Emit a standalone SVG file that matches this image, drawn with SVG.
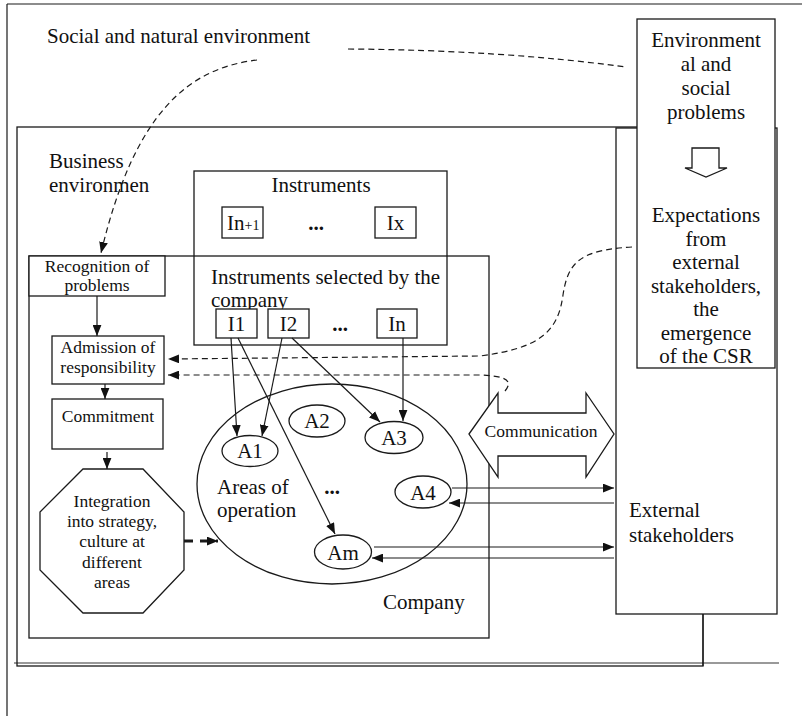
<svg xmlns="http://www.w3.org/2000/svg" width="802" height="716" viewBox="0 0 802 716">
<style>
  text { font-family: 'Liberation Serif', 'Times New Roman', serif; fill: #111; }
  .t21 { font-size: 21px; }
  .t17 { font-size: 17.5px; }
  .mid { text-anchor: middle; }
  .box { fill: none; stroke: #1a1a1a; stroke-width: 1.3; }
  .wbox { fill: #fff; stroke: #1a1a1a; stroke-width: 1.3; }
  .ln { fill: none; stroke: #1a1a1a; stroke-width: 1.2; }
  .dash { fill: none; stroke: #1a1a1a; stroke-width: 1.2; stroke-dasharray: 6 4; }
  .tdash { fill: none; stroke: #1a1a1a; stroke-width: 3; stroke-dasharray: 9 7; }
  .dots { font-weight: bold; }
</style>
<defs>
  <marker id="ah" viewBox="0 0 10 8" refX="10" refY="4" markerWidth="11" markerHeight="9" markerUnits="userSpaceOnUse" orient="auto">
    <path d="M0,0 L10,4 L0,8 z" fill="#111"/>
  </marker>
  <marker id="ahb" viewBox="0 0 10 8" refX="10" refY="4" markerWidth="11" markerHeight="9" markerUnits="userSpaceOnUse" orient="auto">
    <path d="M0,0 L10,4 L0,8 z" fill="#111"/>
  </marker>
</defs>

<g id="frame">
  <line x1="7" y1="4" x2="802" y2="4" class="ln"/>
  <line x1="7" y1="4" x2="7" y2="716" class="ln"/>
  <line x1="14" y1="663" x2="779" y2="663" stroke="#777" stroke-width="1.5"/>
</g>

<g id="social-environment">
  <text x="47" y="43" class="t21">Social and natural environment</text>
</g>

<g id="business-environment">
  <rect x="17" y="127" width="686" height="539" class="box"/>
  <text x="49" y="168" class="t21">Business</text>
  <text x="49" y="192" class="t21">environmen</text>
</g>

<g id="company">
  <rect x="29" y="256" width="460" height="382" class="box"/>
  <text x="383" y="609" class="t21">Company</text>
</g>

<g id="instruments">
  <rect x="194" y="171" width="253" height="174" class="box"/>
  <text x="321" y="192" class="t21 mid">Instruments</text>
  <text x="211" y="284" class="t21">Instruments selected by the</text>
  <text x="211" y="307" class="t21">company</text>
</g>

<g id="in1">
  <rect x="222" y="207" width="41" height="31" class="box"/>
  <text x="227" y="230" class="t21">In<tspan font-size="14px">+1</tspan></text>
</g>
<g id="dots-top"><text x="316" y="230" class="t21 mid dots">...</text></g>
<g id="ix">
  <rect x="375" y="207" width="41" height="31" class="box"/>
  <text x="395.5" y="230" class="t21 mid">Ix</text>
</g>

<g id="i1">
  <rect x="216" y="309" width="41" height="29" class="wbox"/>
  <text x="236.5" y="331" class="t21 mid">I1</text>
</g>
<g id="i2">
  <rect x="268" y="309" width="41" height="29" class="wbox"/>
  <text x="288.5" y="331" class="t21 mid">I2</text>
</g>
<g id="dots-sel"><text x="340" y="331" class="t21 mid dots">...</text></g>
<g id="in">
  <rect x="377" y="309" width="40" height="29" class="wbox"/>
  <text x="397" y="331" class="t21 mid">In</text>
</g>

<g id="recognition">
  <rect x="29" y="256" width="136" height="40" class="wbox"/>
  <text x="97" y="272" class="t17 mid">Recognition of</text>
  <text x="97" y="291" class="t17 mid">problems</text>
</g>

<g id="admission">
  <rect x="52" y="336" width="112" height="48" class="wbox"/>
  <text x="108" y="353" class="t17 mid">Admission of</text>
  <text x="108" y="373" class="t17 mid">responsibility</text>
</g>

<g id="commitment">
  <rect x="52" y="399" width="111" height="50" class="wbox"/>
  <text x="108" y="422" class="t17 mid">Commitment</text>
</g>

<g id="integration">
  <polygon points="83,469 143,469 184,512 184,570 143,613 83,613 40,570 40,512" class="wbox"/>
  <text x="112" y="507" class="t17 mid">Integration</text>
  <text x="112" y="527" class="t17 mid">into strategy,</text>
  <text x="112" y="547" class="t17 mid">culture at</text>
  <text x="112" y="568" class="t17 mid">different</text>
  <text x="112" y="588" class="t17 mid">areas</text>
</g>

<g id="areas">
  <ellipse cx="332" cy="484" rx="135" ry="100" class="box"/>
  <text x="217" y="494" class="t21">Areas of</text>
  <text x="217" y="517" class="t21">operation</text>
  <text x="332" y="494" class="t21 mid dots">...</text>
</g>
<g id="a1"><ellipse cx="250" cy="451" rx="28" ry="15.5" class="wbox"/><text x="250" y="458" class="t21 mid">A1</text></g>
<g id="a2"><ellipse cx="317" cy="421" rx="28" ry="16" class="wbox"/><text x="317" y="428" class="t21 mid">A2</text></g>
<g id="a3"><ellipse cx="394" cy="437.5" rx="29" ry="16" class="wbox"/><text x="394" y="445" class="t21 mid">A3</text></g>
<g id="a4"><ellipse cx="423" cy="492" rx="28" ry="16" class="wbox"/><text x="423" y="500" class="t21 mid">A4</text></g>
<g id="am"><ellipse cx="343" cy="552" rx="28.5" ry="17" class="wbox"/><text x="343" y="560" class="t21 mid">Am</text></g>

<g id="communication">
  <path d="M469,434 L498,393 L498,413 L586,413 L586,393 L614,434 L586,477 L586,456 L498,456 L498,477 Z" class="wbox"/>
  <text x="541" y="437" class="t17 mid">Communication</text>
</g>

<g id="external-stakeholders">
  <rect x="616" y="128" width="161" height="486" class="wbox"/>
  <line x1="703" y1="614" x2="703" y2="666" class="ln"/>
  <text x="629" y="517" class="t21">External</text>
  <text x="629" y="542" class="t21">stakeholders</text>
</g>

<g id="problems-expectations">
  <rect x="637" y="19" width="138" height="349" class="wbox"/>
  <text x="706" y="47" class="t21 mid">Environment</text>
  <text x="706" y="71" class="t21 mid">al and</text>
  <text x="706" y="95" class="t21 mid">social</text>
  <text x="706" y="119" class="t21 mid">problems</text>
  <path d="M692,148 L719,148 L719,168 L727,168 L706,177 L685,168 L692,168 Z" class="wbox"/>
  <text x="706" y="222" class="t21 mid">Expectations</text>
  <text x="706" y="245.5" class="t21 mid">from</text>
  <text x="706" y="269" class="t21 mid">external</text>
  <text x="706" y="292.5" class="t21 mid">stakeholders,</text>
  <text x="706" y="316" class="t21 mid">the</text>
  <text x="706" y="339.5" class="t21 mid">emergence</text>
  <text x="706" y="363" class="t21 mid">of the CSR</text>
</g>

<g id="connectors">
  <path d="M257,60 C190,68 135,110 101,253" class="dash" marker-end="url(#ah)"/>
  <path d="M348,49 Q500,50 626,67" class="dash"/>
  <path d="M632,247 C580,250 568,262 563,295 C558,332 540,348 480,356 L168,359" class="dash" marker-end="url(#ah)"/>
  <path d="M505,391 C514,380 505,376 480,375 L168,375" class="dash" marker-end="url(#ah)"/>
  <line x1="97" y1="296" x2="97" y2="336" class="ln" marker-end="url(#ah)"/>
  <line x1="105" y1="384" x2="105" y2="399" class="ln" marker-end="url(#ah)"/>
  <line x1="107" y1="452" x2="107" y2="469" class="ln" marker-end="url(#ah)"/>
  <line x1="184" y1="541" x2="218" y2="541" class="tdash" marker-end="url(#ahb)"/>
  <line x1="231" y1="338" x2="237" y2="436" class="ln" marker-end="url(#ah)"/>
  <line x1="238" y1="338" x2="335" y2="534" class="ln" marker-end="url(#ah)"/>
  <line x1="282" y1="338" x2="262" y2="436" class="ln" marker-end="url(#ah)"/>
  <line x1="292" y1="338" x2="380" y2="422" class="ln" marker-end="url(#ah)"/>
  <line x1="403" y1="338" x2="403" y2="421" class="ln" marker-end="url(#ah)"/>
  <line x1="452" y1="488" x2="614" y2="488" class="ln" marker-end="url(#ah)"/>
  <line x1="614" y1="503" x2="449" y2="503" class="ln" marker-end="url(#ah)"/>
  <line x1="374" y1="547" x2="614" y2="547" class="ln" marker-end="url(#ah)"/>
  <line x1="614" y1="558" x2="372" y2="558" class="ln" marker-end="url(#ah)"/>
</g>
</svg>
